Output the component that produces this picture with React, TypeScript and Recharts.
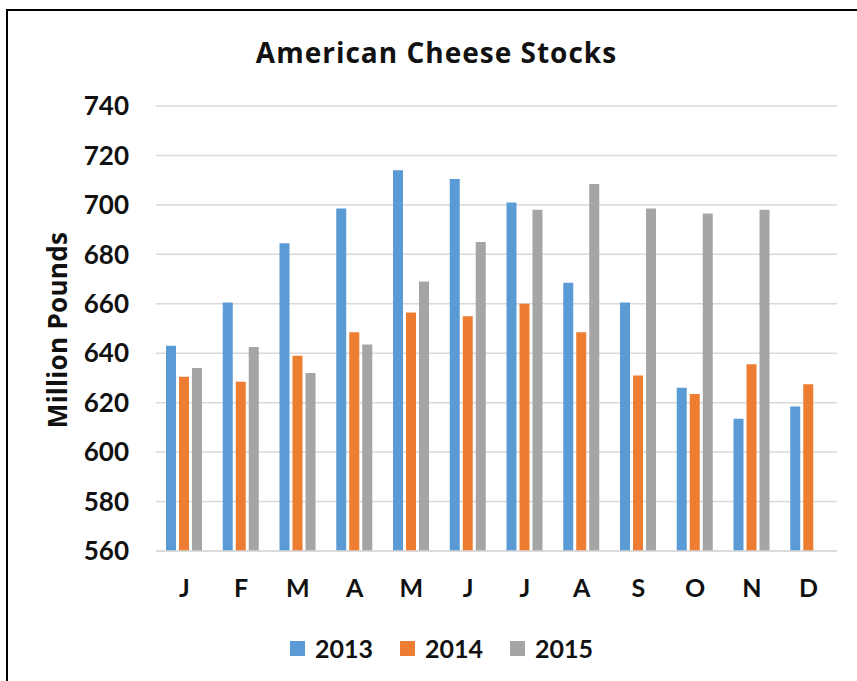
import React from "react";
import { BarChart, Bar, XAxis, YAxis, CartesianGrid } from "recharts";

const months = ["J", "F", "M", "A", "M", "J", "J", "A", "S", "O", "N", "D"];
const stocks2013 = [643, 660.5, 684.5, 698.5, 714, 710.5, 701, 668.5, 660.5, 626, 613.5, 618.5];
const stocks2014 = [630.5, 628.5, 639, 648.5, 656.5, 655, 660, 648.5, 631, 623.5, 635.5, 627.5];
const stocks2015 = [634, 642.5, 632, 643.5, 669, 685, 698, 708.5, 698.5, 696.5, 698, null];
const yTicks = [560, 580, 600, 620, 640, 660, 680, 700, 720, 740];

const series = [
    { key: "y2013", name: "2013", color: "#5B9BD5" },
    { key: "y2014", name: "2014", color: "#ED7D31" },
    { key: "y2015", name: "2015", color: "#A5A5A5" },
];

const FONT = "Lato, 'Open Sans', sans-serif";
const WIDE_FONT = "'Open Sans', Lato, sans-serif";

export default function App() {
    const data = months.map((m, i) => ({
        month: m,
        y2013: stocks2013[i],
        y2014: stocks2014[i],
        y2015: stocks2015[i],
    }));

    const tickStyle = { fill: "#111", fontSize: 25, fontWeight: 700, fontFamily: FONT };

    return (
        <div style={{ position: "absolute", left: 0, top: 0, width: 857, height: 681, background: "#fff", overflow: "hidden", fontFamily: FONT }}>
            {/* frame around the picture */}
            <div style={{ position: "absolute", left: 6, top: 9, width: 900, height: 700, borderTop: "2px solid #000", borderLeft: "2px solid #000" }} />

            <div style={{ position: "absolute", left: 0, top: 34, width: 873, textAlign: "center", fontFamily: WIDE_FONT, fontSize: 28, letterSpacing: 1, fontWeight: 700, color: "#111", lineHeight: "36px" }}>
                American Cheese Stocks
            </div>

            <div style={{ position: "absolute", left: 57 - 150, top: 330 - 14, width: 300, height: 28, lineHeight: "28px", textAlign: "center", fontFamily: WIDE_FONT, fontSize: 26, letterSpacing: 0.3, fontWeight: 700, color: "#111", transform: "rotate(-90deg)" }}>
                Million Pounds
            </div>

            <div style={{ position: "absolute", left: 0, top: 0 }}>
                <BarChart
                    width={857}
                    height={681}
                    data={data}
                    margin={{ top: 106, right: 20, bottom: 100, left: 56 }}
                    barSize={10}
                    barGap={3}
                >
                    <CartesianGrid vertical={false} stroke="#d9d9d9" strokeWidth={1.5} />
                    <XAxis
                        dataKey="month"
                        height={30}
                        tick={tickStyle}
                        tickLine={false}
                        tickSize={0}
                        tickMargin={28}
                        axisLine={{ stroke: "#d9d9d9", strokeWidth: 1.5 }}
                        interval={0}
                    />
                    <YAxis
                        width={100}
                        domain={[560, 740]}
                        ticks={yTicks}
                        tick={{ ...tickStyle, fontSize: 26 }}
                        tickLine={false}
                        tickSize={0}
                        tickMargin={27}
                        axisLine={false}
                        allowDataOverflow
                    />
                    {series.map(s => (
                        <Bar key={s.key} dataKey={s.key} name={s.name} fill={s.color} isAnimationActive={false} />
                    ))}
                </BarChart>
            </div>

            {/* legend */}
            <div style={{ position: "absolute", left: 290, top: 633, display: "flex", alignItems: "center", height: 30 }}>
                {series.map(s => (
                    <div key={s.key} style={{ display: "flex", alignItems: "center", marginRight: 27 }}>
                        <div style={{ width: 15, height: 15, background: s.color, marginRight: 10 }} />
                        <span style={{ fontSize: 25, fontWeight: 700, color: "#111", lineHeight: "30px" }}>{s.name}</span>
                    </div>
                ))}
            </div>
        </div>
    );
}
